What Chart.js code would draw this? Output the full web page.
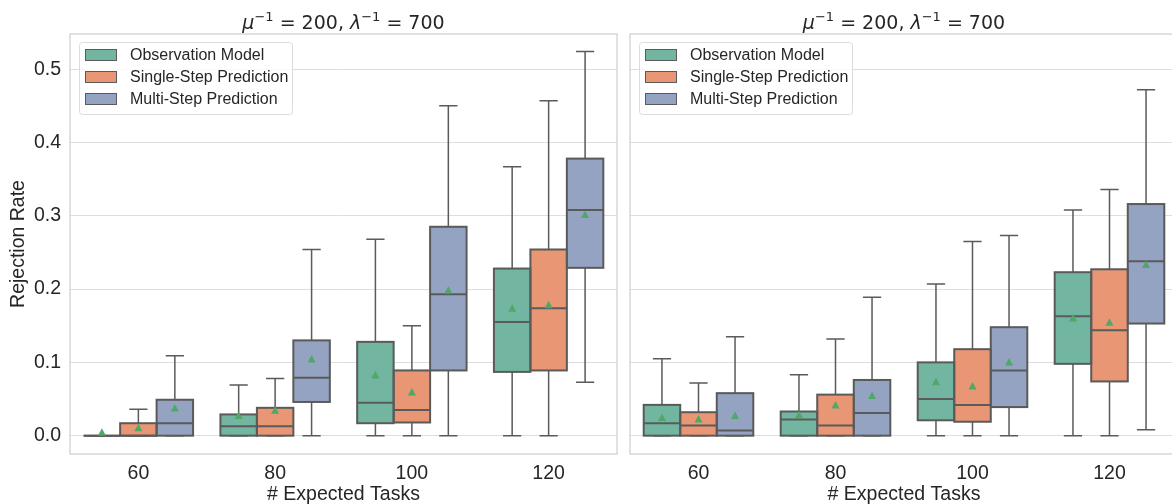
<!DOCTYPE html>
<html>
<head>
<meta charset="utf-8">
<script src="https://cdn.jsdelivr.net/npm/chart.js@4.4.1/dist/chart.umd.min.js"></script>
<style>
  html, body { margin: 0; padding: 0; background: #fff; overflow: hidden; width: 1172px; height: 504px; }
  #left  { position: absolute; left: 0;     top: 0; width: 622px; height: 504px; }
  #right { position: absolute; left: 622px; top: 0; width: 568px; height: 504px; }
</style>
</head>
<body>
<div id="left"><canvas id="leftChart"></canvas></div>
<div id="right"><canvas id="rightChart"></canvas></div>
<script>
// Boxplots of rejection rate, two panels side by side
// each stats row is one box: [whiskerLow, q1, median, q3, whiskerHigh, mean]

const categories = ["60", "80", "100", "120"];
const seriesNames = ["Observation Model", "Single-Step Prediction", "Multi-Step Prediction"];
const seriesColors = ["#72b6a1", "#e99675", "#95a3c3"];
const yTicks = [0, 0.1, 0.2, 0.3, 0.4, 0.5];
const yMin = -0.025;
const yMax = 0.548;

// --------- left panel ----------
const leftObservation = [
  [0, 0, 0, 0, 0, 0.004],
  [0, 0, 0.013, 0.029, 0.069, 0.027],
  [0, 0.017, 0.045, 0.128, 0.268, 0.082],
  [0, 0.087, 0.155, 0.228, 0.367, 0.173]
];
const leftSingleStep = [
  [0, 0, 0, 0.017, 0.036, 0.010],
  [0, 0, 0.013, 0.038, 0.078, 0.034],
  [0, 0.018, 0.035, 0.089, 0.150, 0.059],
  [0, 0.089, 0.174, 0.254, 0.457, 0.178]
];
const leftMultiStep = [
  [0, 0, 0.017, 0.049, 0.109, 0.037],
  [0, 0.046, 0.079, 0.130, 0.254, 0.104],
  [0, 0.089, 0.193, 0.285, 0.450, 0.198],
  [0.073, 0.229, 0.308, 0.378, 0.524, 0.301]
];

// --------- right panel ----------
const rightObservation = [
  [0, 0, 0.017, 0.042, 0.105, 0.024],
  [0, 0, 0.022, 0.033, 0.083, 0.028],
  [0, 0.021, 0.050, 0.100, 0.207, 0.073],
  [0, 0.098, 0.163, 0.223, 0.308, 0.160]
];
const rightSingleStep = [
  [0, 0, 0.014, 0.032, 0.072, 0.022],
  [0, 0, 0.014, 0.056, 0.132, 0.041],
  [0, 0.019, 0.042, 0.118, 0.265, 0.067],
  [0, 0.074, 0.144, 0.227, 0.336, 0.154]
];
const rightMultiStep = [
  [0, 0, 0.007, 0.058, 0.135, 0.027],
  [0, 0, 0.031, 0.076, 0.189, 0.054],
  [0, 0.039, 0.089, 0.148, 0.273, 0.100],
  [0.008, 0.153, 0.238, 0.316, 0.472, 0.233]
];

const FONT = '"Liberation Sans", Arial, sans-serif';
const TEXT = "#262626";
const LINE = "#5a5a5a";
const GRID = "#dedede";
const SPINE = "#cfcfcf";
const MEAN = "#4fa866";

// --------- drawing helpers ----------
function drawTitle(chart) {
  const { ctx, chartArea: a } = chart;
  const math = '"DejaVu Sans", sans-serif';
  const parts = [
    ["μ", "italic 19px " + math, 0],
    ["−1", "13px " + math, -8],
    [" = 200, ", "19px " + math, 0],
    ["λ", "italic 19px " + math, 0],
    ["−1", "13px " + math, -8],
    [" = 700", "19px " + math, 0]
  ];
  ctx.save();
  ctx.fillStyle = TEXT;
  ctx.textBaseline = "alphabetic";
  let total = 0;
  parts.forEach(p => { ctx.font = p[1]; total += ctx.measureText(p[0]).width; });
  let x = (a.left + a.right) / 2 - total / 2;
  parts.forEach(p => {
    ctx.font = p[1];
    ctx.fillText(p[0], x, 29 + p[2]);
    x += ctx.measureText(p[0]).width;
  });
  ctx.restore();
}

function drawLegend(chart) {
  const { ctx, chartArea: a } = chart;
  const x0 = a.left + 9, y0 = a.top + 8;
  ctx.save();
  ctx.fillStyle = "rgba(255,255,255,0.85)";
  ctx.strokeStyle = "#dcdcdc";
  ctx.lineWidth = 1;
  ctx.beginPath();
  ctx.roundRect(x0 + 0.5, y0 + 0.5, 213, 72, 3);
  ctx.fill();
  ctx.stroke();
  ctx.font = "16px " + FONT;
  ctx.textBaseline = "middle";
  chart.data.datasets.forEach((ds, i) => {
    const cy = y0 + 13 + i * 22;
    ctx.fillStyle = ds.backgroundColor;
    ctx.fillRect(x0 + 6, cy - 6, 32, 12);
    ctx.strokeStyle = LINE;
    ctx.strokeRect(x0 + 6.5, cy - 5.5, 31, 11);
    ctx.fillStyle = TEXT;
    ctx.fillText(ds.label, x0 + 51, cy + 1);
  });
  ctx.restore();
}

const boxPlugin = {
  id: "boxExtras",
  beforeDatasetsDraw(chart) {
    const { ctx, chartArea: a, scales: { y } } = chart;
    ctx.save();
    ctx.strokeStyle = SPINE;
    ctx.lineWidth = 1.25;
    ctx.strokeRect(a.left, a.top, a.right - a.left, a.bottom - a.top);
    // whiskers and caps
    ctx.strokeStyle = LINE;
    ctx.lineWidth = 1.5;
    chart.data.datasets.forEach((ds, i) => {
      const meta = chart.getDatasetMeta(i);
      ds.stats.forEach((s, j) => {
        const bar = meta.data[j];
        const x = bar.x, half = bar.width / 4;
        const lo = y.getPixelForValue(s[0]), q1 = y.getPixelForValue(s[1]);
        const q3 = y.getPixelForValue(s[3]), hi = y.getPixelForValue(s[4]);
        ctx.beginPath();
        ctx.moveTo(x, q3); ctx.lineTo(x, hi);
        ctx.moveTo(x, q1); ctx.lineTo(x, lo);
        ctx.moveTo(x - half, hi); ctx.lineTo(x + half, hi);
        ctx.moveTo(x - half, lo); ctx.lineTo(x + half, lo);
        ctx.stroke();
      });
    });
    ctx.restore();
  },
  afterDatasetsDraw(chart) {
    const { ctx, scales: { y } } = chart;
    ctx.save();
    chart.data.datasets.forEach((ds, i) => {
      const meta = chart.getDatasetMeta(i);
      ds.stats.forEach((s, j) => {
        const bar = meta.data[j];
        const l = bar.x - bar.width / 2, r = bar.x + bar.width / 2;
        const q1 = y.getPixelForValue(s[1]), q3 = y.getPixelForValue(s[3]);
        const med = y.getPixelForValue(s[2]), mean = y.getPixelForValue(s[5]);
        ctx.strokeStyle = LINE;
        ctx.lineWidth = 2;
        ctx.strokeRect(l, q3, r - l, q1 - q3);
        ctx.beginPath();
        ctx.moveTo(l, med); ctx.lineTo(r, med);
        ctx.stroke();
        // mean marker
        ctx.fillStyle = MEAN;
        ctx.beginPath();
        ctx.moveTo(bar.x, mean - 4.5);
        ctx.lineTo(bar.x - 4, mean + 3);
        ctx.lineTo(bar.x + 4, mean + 3);
        ctx.closePath();
        ctx.fill();
      });
    });
    ctx.restore();
  },
  afterDraw(chart) {
    drawLegend(chart);
    drawTitle(chart);
  }
};

function buildChart(canvasId, panel, showY, padding) {
  const datasets = panel.map((stats, i) => ({
    label: seriesNames[i],
    data: stats.map(s => [s[1], s[3]]),
    stats,
    backgroundColor: seriesColors[i],
    borderWidth: 0,
    categoryPercentage: 0.8,
    barPercentage: 1.0
  }));
  return new Chart(document.getElementById(canvasId), {
    type: "bar",
    data: { labels: categories, datasets },
    plugins: [boxPlugin],
    options: {
      responsive: true,
      maintainAspectRatio: false,
      animation: false,
      layout: { padding },
      plugins: { legend: { display: false }, tooltip: { enabled: false }, title: { display: false } },
      scales: {
        x: {
          offset: true,
          grid: { display: false, drawTicks: false },
          border: { display: false },
          ticks: { color: TEXT, font: { family: FONT, size: 19.5 }, padding: 8 },
          title: { display: true, text: "# Expected Tasks", color: TEXT, font: { family: FONT, size: 19.5 }, padding: { top: 0, bottom: -2 } },
          afterFit: axis => { axis.height = 50; }
        },
        y: {
          min: yMin,
          max: yMax,
          afterBuildTicks: axis => { axis.ticks = yTicks.map(v => ({ value: v })); },
          grid: { color: GRID, lineWidth: 1, drawTicks: false },
          border: { display: false },
          ticks: { display: showY, color: TEXT, font: { family: FONT, size: 19.5 }, padding: 9, callback: v => v.toFixed(1) },
          title: { display: showY, text: "Rejection Rate", color: TEXT, font: { family: FONT, size: 19.5 }, padding: { top: 7, bottom: 0 } },
          afterFit: axis => { axis.width = showY ? 70 : 0; }
        }
      }
    }
  });
}

buildChart("leftChart", [leftObservation, leftSingleStep, leftMultiStep], true, { left: 0, right: 5, top: 34, bottom: 0 });
buildChart("rightChart", [rightObservation, rightSingleStep, rightMultiStep], false, { left: 8, right: 12, top: 34, bottom: 0 });
</script>
</body>
</html>
